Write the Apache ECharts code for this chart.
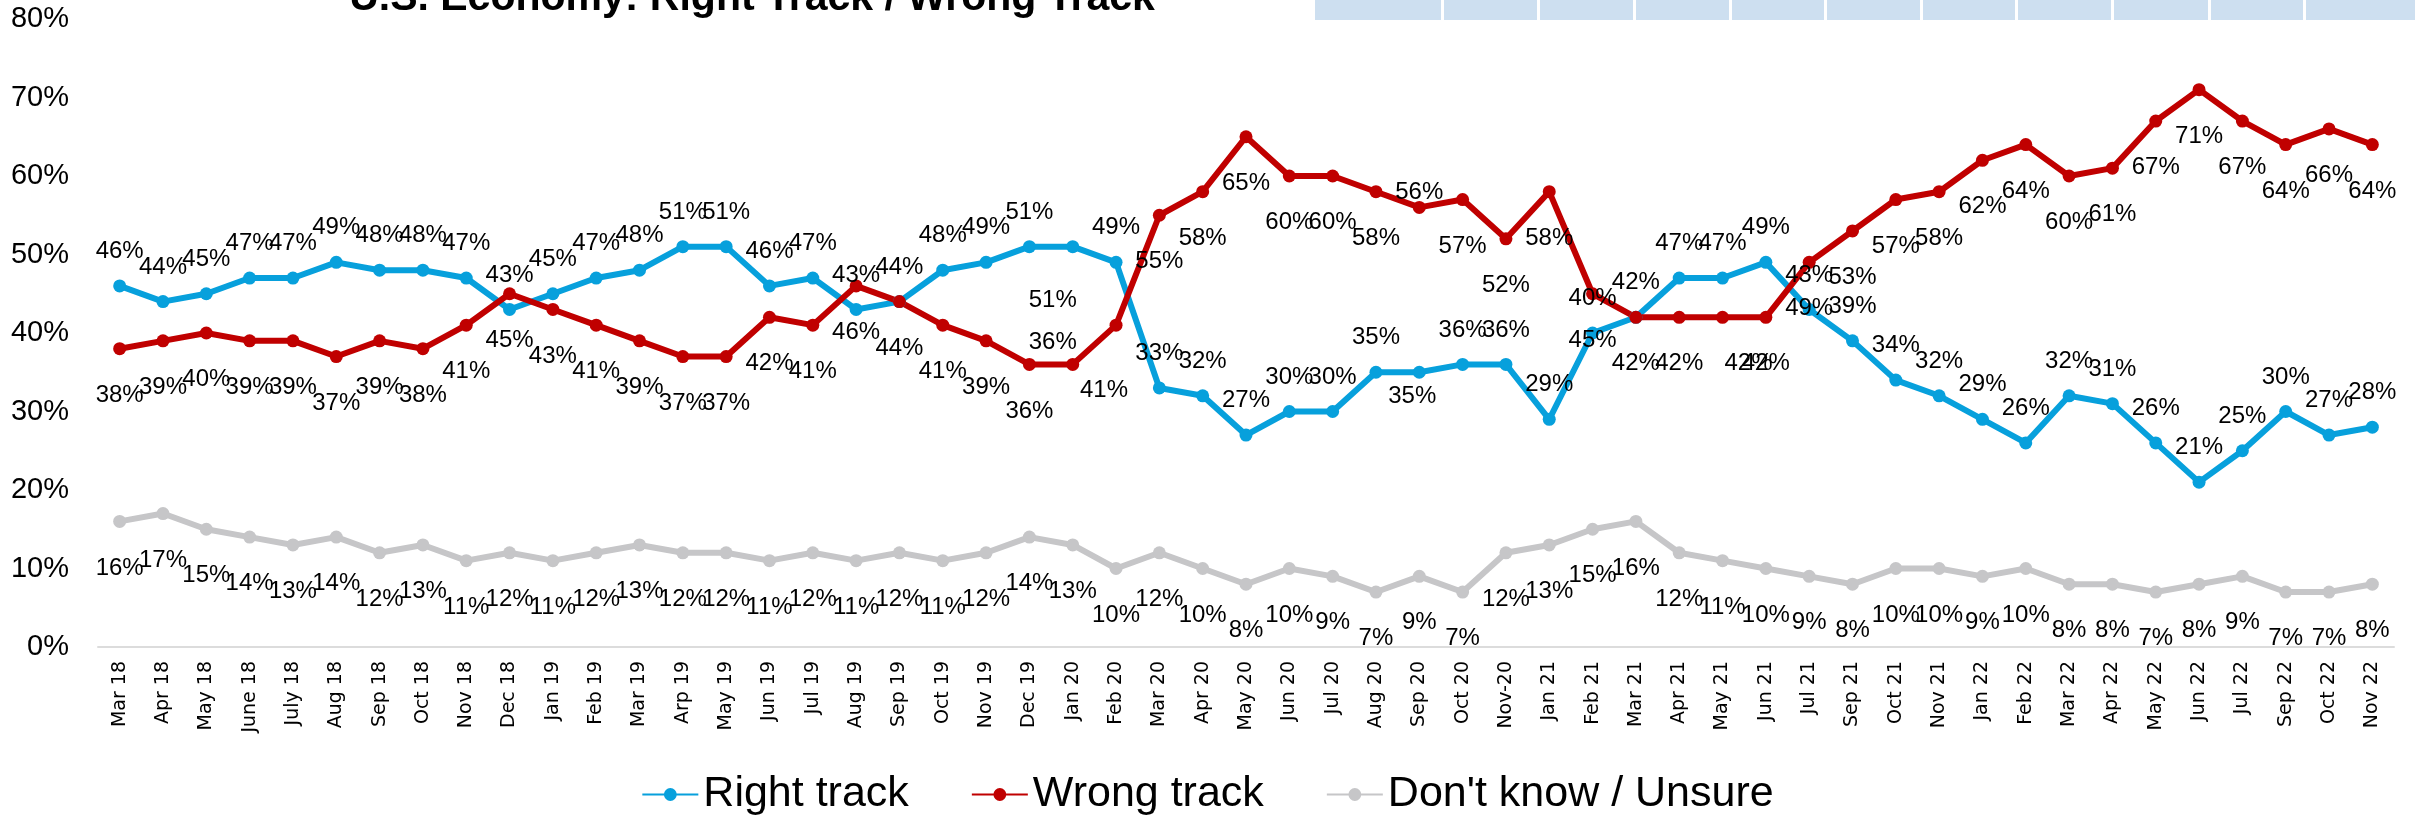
<!DOCTYPE html>
<html>
<head>
<meta charset="utf-8">
<title>U.S. Economy: Right Track / Wrong Track</title>
<script src="https://cdn.jsdelivr.net/npm/echarts@6/dist/echarts.min.js"></script>
<style>
    html, body { margin: 0; padding: 0; background: #fff; }
    #echart1 { width: 2415px; height: 816px; }
</style>
</head>
<body>
<div id="echart1"></div>
<script>
var months = ['Mar 18', 'Apr 18', 'May 18', 'June 18', 'July 18', 'Aug 18', 'Sep 18', 'Oct 18', 'Nov 18', 'Dec 18',
    'Jan 19', 'Feb 19', 'Mar 19', 'Arp 19', 'May 19', 'Jun 19', 'Jul 19', 'Aug 19', 'Sep 19', 'Oct 19',
    'Nov 19', 'Dec 19', 'Jan 20', 'Feb 20', 'Mar 20', 'Apr 20', 'May 20', 'Jun 20', 'Jul 20', 'Aug 20',
    'Sep 20', 'Oct 20', 'Nov-20', 'Jan 21', 'Feb 21', 'Mar 21', 'Apr 21', 'May 21', 'Jun 21', 'Jul 21',
    'Sep 21', 'Oct 21', 'Nov 21', 'Jan 22', 'Feb 22', 'Mar 22', 'Apr 22', 'May 22', 'Jun 22', 'Jul 22',
    'Sep 22', 'Oct 22', 'Nov 22'];

var rightTrack = [46, 44, 45, 47, 47, 49, 48, 48, 47, 43,
    45, 47, 48, 51, 51, 46, 47, 43, 44, 48,
    49, 51, 51, 49, 33, 32, 27, 30, 30, 35,
    35, 36, 36, 29, 40, 42, 47, 47, 49, 43,
    39, 34, 32, 29, 26, 32, 31, 26, 21, 25,
    30, 27, 28];

var wrongTrack = [38, 39, 40, 39, 39, 37, 39, 38, 41, 45,
    43, 41, 39, 37, 37, 42, 41, 46, 44, 41,
    39, 36, 36, 41, 55, 58, 65, 60, 60, 58,
    56, 57, 52, 58, 45, 42, 42, 42, 42, 49,
    53, 57, 58, 62, 64, 60, 61, 67, 71, 67,
    64, 66, 64];

var unsure = [16, 17, 15, 14, 13, 14, 12, 13, 11, 12,
    11, 12, 13, 12, 12, 11, 12, 11, 12, 11,
    12, 14, 13, 10, 12, 10, 8, 10, 9, 7,
    9, 7, 12, 13, 15, 16, 12, 11, 10, 9,
    8, 10, 10, 9, 10, 8, 8, 7, 8, 9,
    7, 7, 8];

var yTicks = [0, 10, 20, 30, 40, 50, 60, 70, 80];

// labels that were dragged by hand in the original (index -> offset)
var rightMoved = { 22: [-20, 88], 30: [-7, 59] };
var wrongMoved = { 22: [-20, -69], 23: [-12, 19], 30: [0, -62], 37: [26, 0] };

(function () {
    echarts_1();

    function withLabels(vals, moved) {
        return vals.map(function (v, i) {
            if (moved[i]) {
                return { value: v, label: { offset: moved[i] } };
            }
            return v;
        });
    }

    function echarts_1() {
        var myChart = echarts.init(document.getElementById('echart1'));
        var labelFont = 'Liberation Sans';

        // header strip of the table that sits above the chart
        var cells = [1315, 1444, 1540, 1636, 1732, 1827, 1923, 2018, 2114, 2211, 2306, 2418];
        var graphics = [];
        for (var i = 0; i < cells.length - 1; i++) {
            graphics.push({
                type: 'rect',
                shape: { x: cells[i], y: 0, width: cells[i + 1] - cells[i] - 3, height: 20 },
                style: { fill: '#cddff0' }
            });
        }
        graphics.push({
            type: 'text',
            x: 752,
            y: -1,
            style: {
                text: 'U.S. Economy: Right Track / Wrong Track',
                font: 'bold 41px "Liberation Sans"',
                fill: '#000',
                align: 'center',
                verticalAlign: 'middle'
            }
        });

        var lineSeries = function (name, vals, color, pos, dist, moved) {
            return {
                name: name,
                type: 'line',
                symbol: 'circle',
                symbolSize: 13,
                lineStyle: { width: 6, color: color },
                itemStyle: { color: color },
                label: {
                    show: true,
                    position: pos,
                    distance: dist,
                    formatter: '{c}%',
                    color: '#000',
                    fontFamily: labelFont,
                    fontSize: 24
                },
                emphasis: { disabled: true },
                data: withLabels(vals, moved)
            };
        };

        option = {
            animation: false,
            backgroundColor: '#fff',
            graphic: graphics,
            legend: {
                top: 768,
                left: 'center',
                itemWidth: 56,
                itemHeight: 16,
                itemGap: 62,
                textStyle: {
                    color: '#000',
                    fontFamily: labelFont,
                    fontSize: 43
                },
                data: ['Right track', 'Wrong track', "Don't know / Unsure"]
            },
            grid: {
                left: 98,
                right: 21,
                top: 19,
                bottom: 169
            },
            xAxis: [{
                type: 'category',
                boundaryGap: true,
                data: months,
                axisTick: { show: false },
                axisLine: { lineStyle: { color: '#dcdcdc', width: 2 } },
                axisLabel: {
                    interval: 0,
                    rotate: 90,
                    margin: 14,
                    color: '#000',
                    fontFamily: 'DejaVu Sans',
                    fontSize: 19
                },
                splitLine: { show: false }
            }],
            yAxis: [{
                type: 'value',
                min: yTicks[0],
                max: yTicks[yTicks.length - 1],
                interval: yTicks[1] - yTicks[0],
                axisLine: { show: false },
                axisTick: { show: false },
                splitLine: { show: false },
                axisLabel: {
                    margin: 29,
                    color: '#000',
                    fontFamily: labelFont,
                    fontSize: 29,
                    formatter: '{value}%'
                }
            }],
            series: [
                lineSeries('Right track', rightTrack, '#07a0dc', 'top', 16, rightMoved),
                lineSeries('Wrong track', wrongTrack, '#c00000', 'bottom', 28, wrongMoved),
                lineSeries("Don't know / Unsure", unsure, '#c6c6c8', 'bottom', 28, {})
            ]
        };

        myChart.setOption(option);
        window.addEventListener("resize", function () {
            myChart.resize();
        });
    }
})();
</script>
</body>
</html>
